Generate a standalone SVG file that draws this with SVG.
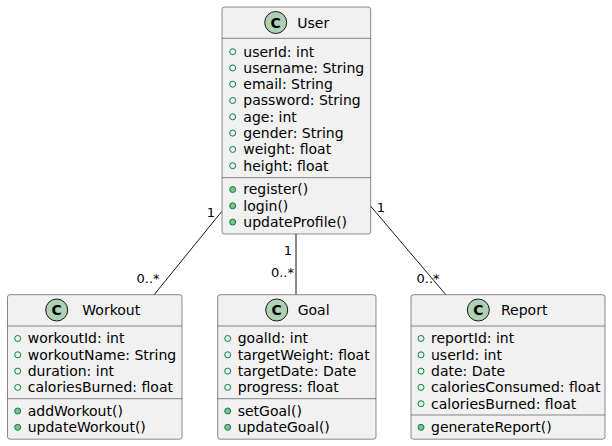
<svg xmlns="http://www.w3.org/2000/svg" width="612" height="446" viewBox="0 0 612 446">
<style>
.box{fill:#F1F1F1;stroke:#181818;stroke-width:0.5}
.sep{stroke:#181818;stroke-width:0.5}
.ci{fill:#ADD1B2;stroke:#181818;stroke-width:1}
.cl{font-family:"DejaVu Sans",sans-serif;font-size:14px;font-weight:bold;fill:#000;text-anchor:middle}
.t{font-family:"DejaVu Sans",sans-serif;font-size:14px;fill:#000}
.f{fill:none;stroke:#038048;stroke-width:1}
.m{fill:#84BE84;stroke:#038048;stroke-width:1}
.lk{stroke:#181818;stroke-width:1;fill:none}
.lb{font-family:"DejaVu Sans",sans-serif;font-size:13px;fill:#000}
</style>
<rect width="612" height="446" fill="#FFFFFF"/>
<g id="connectors">
<line class="lk" x1="221.7" y1="211.5" x2="154.3" y2="294.5"/>
<line class="lk" x1="296" y1="234" x2="296" y2="294.5"/>
<line class="lk" x1="370.5" y1="206" x2="445.7" y2="294.5"/>
<text class="lb" x="211" y="217" text-anchor="middle">1</text>
<text class="lb" x="136.5" y="282.5">0..*</text>
<text class="lb" x="292" y="254.5" text-anchor="end">1</text>
<text class="lb" x="294" y="276.5" text-anchor="end">0..*</text>
<text class="lb" x="381" y="212" text-anchor="middle">1</text>
<text class="lb" x="416.5" y="282.5">0..*</text>
</g>
<g id="User">
<rect class="box" x="222" y="7" width="148.7" height="227" rx="2.5"/>
<circle class="ci" cx="275.7" cy="22.5" r="11"/>
<text class="cl" x="275.7" y="27.5">C</text>
<text class="t" x="297.3" y="27.5">User</text>
<line class="sep" x1="222" y1="38.3" x2="370.7" y2="38.3"/>
<line class="sep" x1="222" y1="177.7" x2="370.7" y2="177.7"/>
<circle class="f" cx="232.7" cy="51.7" r="3"/><text class="t" x="243.3" y="56.5">userId: int</text>
<circle class="f" cx="232.7" cy="67.9" r="3"/><text class="t" x="243.3" y="72.8">username: String</text>
<circle class="f" cx="232.7" cy="84.2" r="3"/><text class="t" x="243.3" y="89.1">email: String</text>
<circle class="f" cx="232.7" cy="100.5" r="3"/><text class="t" x="243.3" y="105.4">password: String</text>
<circle class="f" cx="232.7" cy="116.8" r="3"/><text class="t" x="243.3" y="121.7">age: int</text>
<circle class="f" cx="232.7" cy="133.1" r="3"/><text class="t" x="243.3" y="138">gender: String</text>
<circle class="f" cx="232.7" cy="149.4" r="3"/><text class="t" x="243.3" y="154.3">weight: float</text>
<circle class="f" cx="232.7" cy="165.7" r="3"/><text class="t" x="243.3" y="170.6">height: float</text>
<circle class="m" cx="232.7" cy="189.5" r="3"/><text class="t" x="243.3" y="194.4">register()</text>
<circle class="m" cx="232.7" cy="205.8" r="3"/><text class="t" x="243.3" y="210.7">login()</text>
<circle class="m" cx="232.7" cy="222.1" r="3"/><text class="t" x="243.3" y="227">updateProfile()</text>
</g>
<g id="Workout">
<rect class="box" x="7.5" y="294.7" width="174.5" height="144.5" rx="2.5"/>
<circle class="ci" cx="56.7" cy="310" r="11"/>
<text class="cl" x="56.7" y="315">C</text>
<text class="t" x="82.3" y="315">Workout</text>
<line class="sep" x1="7.5" y1="326" x2="182" y2="326"/>
<line class="sep" x1="7.5" y1="398.7" x2="182" y2="398.7"/>
<circle class="f" cx="17.7" cy="338.5" r="3"/><text class="t" x="27.7" y="343.4">workoutId: int</text>
<circle class="f" cx="17.7" cy="354.8" r="3"/><text class="t" x="27.7" y="359.7">workoutName: String</text>
<circle class="f" cx="17.7" cy="371.1" r="3"/><text class="t" x="27.7" y="376">duration: int</text>
<circle class="f" cx="17.7" cy="387.4" r="3"/><text class="t" x="27.7" y="392.3">caloriesBurned: float</text>
<circle class="m" cx="17.7" cy="411" r="3"/><text class="t" x="27.7" y="415.9">addWorkout()</text>
<circle class="m" cx="17.7" cy="427.3" r="3"/><text class="t" x="27.7" y="432.2">updateWorkout()</text>
</g>
<g id="Goal">
<rect class="box" x="217.7" y="294.7" width="158.3" height="144.5" rx="2.5"/>
<circle class="ci" cx="276.7" cy="310" r="11"/>
<text class="cl" x="276.7" y="315">C</text>
<text class="t" x="297.7" y="315">Goal</text>
<line class="sep" x1="217.7" y1="326" x2="376" y2="326"/>
<line class="sep" x1="217.7" y1="398.7" x2="376" y2="398.7"/>
<circle class="f" cx="227.7" cy="338.5" r="3"/><text class="t" x="237.7" y="343.4">goalId: int</text>
<circle class="f" cx="227.7" cy="354.8" r="3"/><text class="t" x="237.7" y="359.7">targetWeight: float</text>
<circle class="f" cx="227.7" cy="371.1" r="3"/><text class="t" x="237.7" y="376">targetDate: Date</text>
<circle class="f" cx="227.7" cy="387.4" r="3"/><text class="t" x="237.7" y="392.3">progress: float</text>
<circle class="m" cx="227.7" cy="411" r="3"/><text class="t" x="237.7" y="415.9">setGoal()</text>
<circle class="m" cx="227.7" cy="427.3" r="3"/><text class="t" x="237.7" y="432.2">updateGoal()</text>
</g>
<g id="Report">
<rect class="box" x="411" y="294.7" width="194" height="144.5" rx="2.5"/>
<circle class="ci" cx="478.3" cy="310" r="11"/>
<text class="cl" x="478.3" y="315">C</text>
<text class="t" x="501" y="315">Report</text>
<line class="sep" x1="411" y1="326" x2="605" y2="326"/>
<line class="sep" x1="411" y1="415" x2="605" y2="415"/>
<circle class="f" cx="421" cy="338.5" r="3"/><text class="t" x="431" y="343.4">reportId: int</text>
<circle class="f" cx="421" cy="354.8" r="3"/><text class="t" x="431" y="359.7">userId: int</text>
<circle class="f" cx="421" cy="371.1" r="3"/><text class="t" x="431" y="376">date: Date</text>
<circle class="f" cx="421" cy="387.4" r="3"/><text class="t" x="431" y="392.3">caloriesConsumed: float</text>
<circle class="f" cx="421" cy="403.7" r="3"/><text class="t" x="431" y="408.6">caloriesBurned: float</text>
<circle class="m" cx="421" cy="427.3" r="3"/><text class="t" x="431" y="432.2">generateReport()</text>
</g>
</svg>
